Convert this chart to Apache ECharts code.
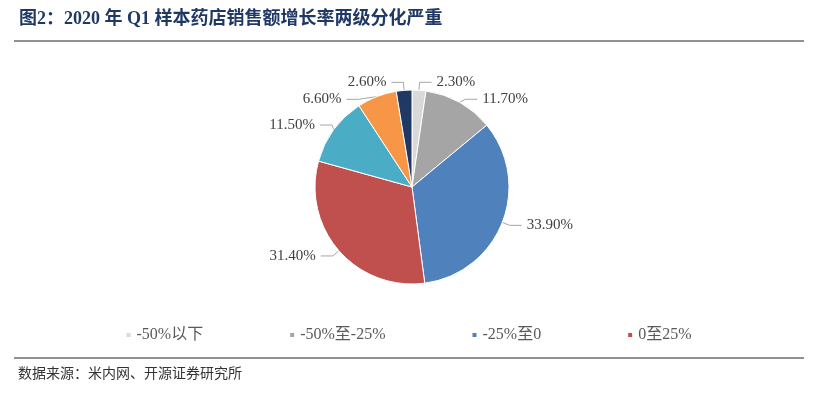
<!DOCTYPE html>
<html><head><meta charset="utf-8">
<script src="https://cdn.jsdelivr.net/npm/echarts@6/dist/echarts.min.js"></script>
<style>body{margin:0;background:#fff}#c{width:816px;height:403px}</style>
</head><body><div id="c"></div>
<script>
const categories = ['-50%以下','-50%至-25%','-25%至0','0至25%','25%至50%','50%至100%','100%以上'];
const values = [2.3, 11.7, 33.9, 31.4, 11.5, 6.6, 2.6];
const legendItems = ['-50%以下','-50%至-25%','-25%至0','0至25%'];
const colors = ['#d9d9d9','#a5a5a5','#4f81bd','#c0504d','#4bacc6','#f79646','#1f3864'];
const serif = '"Liberation Serif","Noto Sans CJK SC",serif';
const chart = echarts.init(document.getElementById('c'));
chart.setOption({
  animation:false,
  color: colors,
  title:{text:'图2：2020 年 Q1 样本药店销售额增长率两级分化严重',left:14,top:5,
    textStyle:{fontFamily:serif,fontSize:18,fontWeight:'bold',color:'#1f3864'}},
  graphic:[
    {type:'line',shape:{x1:14,y1:41,x2:804,y2:41},style:{stroke:'#222',lineWidth:1}},
    {type:'line',shape:{x1:14,y1:358,x2:804,y2:358},style:{stroke:'#222',lineWidth:1}},
    {type:'text',left:18,top:366,style:{text:'数据来源：米内网、开源证券研究所',font:'14px "Noto Sans CJK SC"',fill:'#333'}}
  ],
  legend:{data:legendItems,bottom:55,left:'center',itemWidth:6,itemHeight:6,itemGap:85,icon:'rect',
    textStyle:{fontFamily:serif,fontSize:16,color:'#595959'}},
  series:[{type:'pie',center:[412,187],radius:[0,97],startAngle:90,clockwise:true,
    data:categories.map((n,i)=>({name:n,value:values[i]})),
    itemStyle:{borderColor:'#fff',borderWidth:1},
    label:{formatter:p=>p.value.toFixed(2)+'%',fontFamily:serif,fontSize:15,color:'#404040'},
    labelLine:{length:8,length2:12,lineStyle:{color:'#a6a6a6'}}
  }]
});
</script></body></html>
